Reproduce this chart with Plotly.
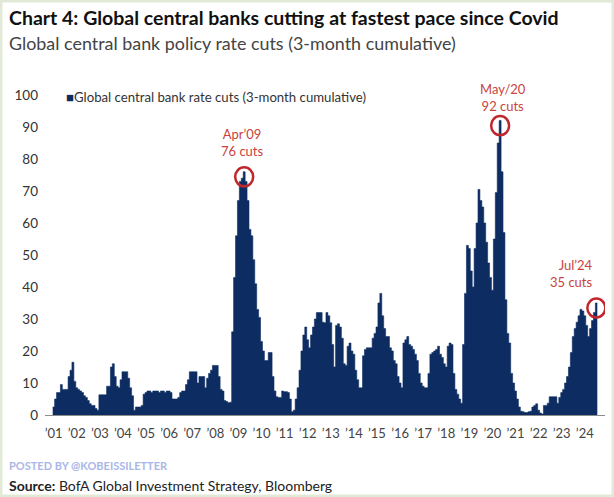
import plotly.graph_objects as go

# ---- data: global central bank rate cuts, 3-month cumulative (monthly, Jan 2001 - Jul 2024)
cuts_2001 = [2.5, 5, 7, 7, 9.5, 8, 8, 8, 12, 14, 16.5, 10.5]
cuts_2002 = [8.5, 8, 7.5, 7, 6, 5.5, 4.5, 3.5, 3, 3, 2, 1.5]
cuts_2003 = [6.3, 6.3, 6.3, 6.3, 9, 9, 15, 16, 12, 9, 8.5, 11]
cuts_2004 = [13.5, 13.5, 13.5, 11.5, 8.5, 6, 1.5, 2.5, 2.5, 2.5, 3, 6.5]
cuts_2005 = [7, 7.5, 7.5, 7, 7.5, 7.5, 7.5, 7, 7.5, 7.5, 7, 7.5]
cuts_2006 = [7.5, 7, 5, 5, 5, 5.5, 7, 7.5, 7.5, 9.5, 11, 13.5]
cuts_2007 = [13.5, 13.5, 13.5, 10, 12, 12, 12, 8.5, 11.5, 13, 14, 15.5]
cuts_2008 = [15.5, 15.5, 12, 8, 7.5, 4.5, 4.2, 3.8, 4, 26, 43, 56]
cuts_2009 = [67, 73, 74, 76, 73, 67, 58, 56, 48.5, 41, 33, 30.5]
cuts_2010 = [23, 20, 17, 17, 19.5, 19.5, 12, 7.5, 5.7, 5.5, 5.5, 7.5]
cuts_2011 = [7.3, 7.3, 7, 5, 1, 1.5, 5, 8.5, 14, 20, 25, 27.5]
cuts_2012 = [23.5, 21, 25, 27.5, 30, 32, 32, 32, 29, 28.8, 32, 31]
cuts_2013 = [28.8, 22, 15, 28, 28.5, 27.5, 24, 16, 15.5, 21.5, 22.5, 20]
cuts_2014 = [19, 14, 11, 8.5, 8.5, 18.5, 20.5, 21, 21, 21, 24, 25.5]
cuts_2015 = [27.5, 35, 38, 31, 27, 24.5, 24.5, 21, 20, 17, 16, 12]
cuts_2016 = [10, 8.5, 22.5, 23.5, 24.5, 22, 21.5, 20.5, 19, 17, 13, 10]
cuts_2017 = [9, 8.5, 8.5, 13, 19, 19.5, 20, 20.5, 21.5, 19, 18, 16]
cuts_2018 = [15, 21.5, 22.5, 22, 13, 8, 6.5, 5, 3.7, 22, 38, 53]
cuts_2019 = [52, 45, 40, 52, 60, 70.5, 67, 65, 60, 54, 47.5, 43]
cuts_2020 = [39, 55, 69.5, 85, 92, 76, 57, 36, 25.5, 22.5, 13, 10]
cuts_2021 = [7.5, 5, 2.5, 1.2, 1, 0.8, 0.8, 1, 1.2, 2.5, 3, 3.5]
cuts_2022 = [1.5, 0.6, 0.3, 3, 3, 3.7, 5.7, 5.7, 5.7, 5.7, 3.7, 5.5]
cuts_2023 = [7, 8, 10, 12, 15, 19.5, 24.5, 27, 29, 31, 33, 32.5]
cuts_2024 = [31, 28, 24.5, 27, 29.5, 32, 35]

years = list(range(2001, 2025))
tick_labels = ["\u2019%02d" % (y % 100) for y in years]

peak_labels = ["Apr\u201909", "May/20", "Jul\u201924"]
peak_counts = [76, 92, 35]
peak_months = [(2009, 4), (2020, 5), (2024, 7)]

values = (cuts_2001 + cuts_2002 + cuts_2003 + cuts_2004 + cuts_2005 + cuts_2006 +
          cuts_2007 + cuts_2008 + cuts_2009 + cuts_2010 + cuts_2011 + cuts_2012 +
          cuts_2013 + cuts_2014 + cuts_2015 + cuts_2016 + cuts_2017 + cuts_2018 +
          cuts_2019 + cuts_2020 + cuts_2021 + cuts_2022 + cuts_2023 + cuts_2024)
months = list(range(len(values)))

NAVY = "#0d2d62"
RED = "#c0272d"
TEXT_RED = "#c9433e"
FONT = "Lato"

W, H = 614, 497
L, R, T, B = 45, 9, 95, 82
PW, PH = W - L - R, H - T - B

def px_x(p):
    return (p - L) / PW

def px_y(p):
    return (H - B - p) / PH

# monthly columns drawn as a seamless stepped area (each month spans m-0.5 .. m+0.5)
step_x = [m - 0.5 for m in months] + [months[-1] + 0.5]
step_y = values + [values[-1]]

fig = go.Figure()
fig.add_trace(go.Scatter(x=step_x, y=step_y, mode="lines", line=dict(shape="hv", width=0.6, color=NAVY),
                         fill="tozeroy", fillcolor=NAVY,
                         name="Global central bank rate cuts (3-month cumulative)", showlegend=False))

annotations = []
shapes = []
offsets = [dict(xshift=-2, yshift=11, xanchor="center", align="center"),
           dict(xshift=3, yshift=5, xanchor="center", align="center"),
           dict(xshift=-1, yshift=11, xanchor="right", align="right")]
for lab, cnt, (yy, mm), off in zip(peak_labels, peak_counts, peak_months, offsets):
    idx = (yy - 2001) * 12 + (mm - 1)
    annotations.append(dict(x=idx, y=values[idx], xref="x", yref="y",
                            text=f"{lab}<br>{cnt} cuts", showarrow=False,
                            yanchor="bottom", font=dict(family=FONT, size=13, color=TEXT_RED),
                            **off))
    shapes.append(dict(type="circle", xref="x", yref="y", xsizemode="pixel", ysizemode="pixel",
                       xanchor=idx, yanchor=values[idx], x0=-9, x1=9, y0=-14.5, y1=4.5,
                       line=dict(color=RED, width=2.5)))

# title, subtitle
annotations.append(dict(xref="paper", yref="paper", x=px_x(7), y=px_y(17), xanchor="left", yanchor="middle",
                        text="<b>Chart 4: Global central banks cutting at fastest pace since Covid</b>",
                        showarrow=False, font=dict(family=FONT, size=19.5, color="#111111")))
annotations.append(dict(xref="paper", yref="paper", x=px_x(7), y=px_y(43), xanchor="left", yanchor="middle",
                        text="Global central bank policy rate cuts (3-month cumulative)",
                        showarrow=False, font=dict(family=FONT, size=17.9, color="#444444")))
# legend
annotations.append(dict(xref="paper", yref="paper", x=px_x(64), y=px_y(97), xanchor="left", yanchor="middle",
                        text=f"<span style='color:{NAVY}'>\u25a0</span>Global central bank rate cuts (3-month cumulative)",
                        showarrow=False, font=dict(family=FONT, size=13.2, color="#333333")))
# footer
annotations.append(dict(xref="paper", yref="paper", x=px_x(7), y=px_y(465), xanchor="left", yanchor="middle",
                        text="<b>POSTED BY @KOBEISSILETTER</b>",
                        showarrow=False, font=dict(family=FONT, size=11, color="#aab7e6")))
annotations.append(dict(xref="paper", yref="paper", x=px_x(7), y=px_y(485), xanchor="left", yanchor="middle",
                        text="<b>Source:</b> BofA Global Investment Strategy, Bloomberg",
                        showarrow=False, font=dict(family=FONT, size=14, color="#222222")))

# light frame around the image
shapes.append(dict(type="rect", xref="paper", yref="paper", x0=px_x(1), x1=px_x(W - 1),
                   y0=px_y(H - 1), y1=px_y(1), line=dict(color="#e1ead6", width=3), layer="below"))

fig.update_layout(
    width=W, height=H,
    margin=dict(l=L, r=R, t=T, b=B, pad=0),
    paper_bgcolor="white", plot_bgcolor="white",
    showlegend=False,
    annotations=annotations,
    shapes=shapes,
    font=dict(family=FONT, color="#333333"),
    xaxis=dict(range=[-4.5, 286.5], tickvals=[(y - 2001) * 12 for y in years], ticktext=tick_labels,
               showgrid=False, zeroline=False, showline=True, linecolor="#8c8c8c", linewidth=1,
               ticks="", ticklabelstandoff=6,
               tickfont=dict(family=FONT, size=13, color="#444444"), fixedrange=True),
    yaxis=dict(range=[0, 100], tickvals=list(range(0, 101, 10)), showgrid=False, zeroline=False,
               showline=False, ticks="", ticklabelstandoff=6,
               tickfont=dict(family=FONT, size=13.5, color="#333333"), fixedrange=True),
)

fig.write_html("out.html")
